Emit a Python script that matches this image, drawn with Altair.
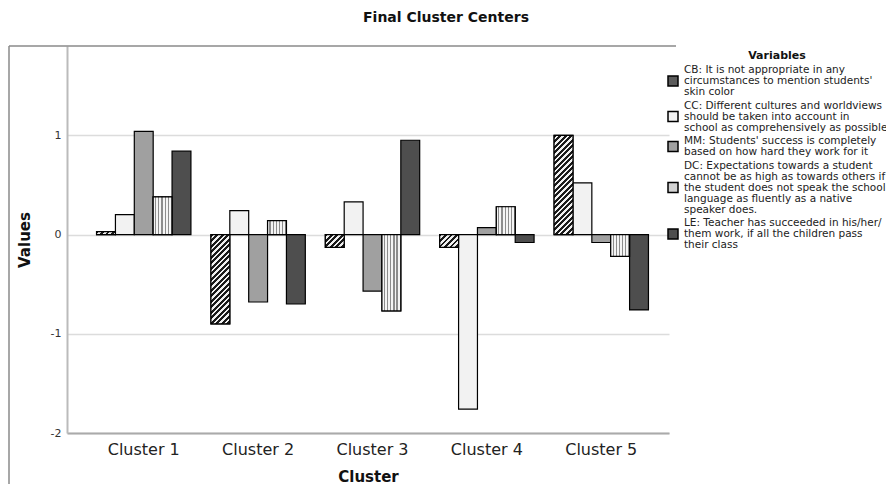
import math
import altair as alt
import pandas as pd

# ---------------- data ----------------
clusters = ["Cluster 1", "Cluster 2", "Cluster 3", "Cluster 4", "Cluster 5"]
codes = ["CB", "CC", "MM", "DC", "LE"]
legend_text = [
    "CB: It is not appropriate in any|circumstances to mention students'|skin color",
    "CC: Different cultures and worldviews|should be taken into account in|school as comprehensively as possible",
    "MM: Students' success is completely|based on how hard they work for it",
    "DC: Expectations towards a student|cannot be as high as towards others if|the student does not speak the school|language as fluently as a native|speaker does.",
    "LE: Teacher has succeeded in his/her/|them work, if all the children pass|their class",
]
cb_values = [0.03, -0.90, -0.13, -0.13, 1.00]
cc_values = [0.20, 0.24, 0.33, -1.76, 0.52]
mm_values = [1.04, -0.68, -0.57, 0.07, -0.08]
dc_values = [0.38, 0.14, -0.77, 0.28, -0.22]
le_values = [0.84, -0.70, 0.95, -0.08, -0.76]

series = {"CB": cb_values, "CC": cc_values, "MM": mm_values, "DC": dc_values, "LE": le_values}
grays = ["#5c5c5c", "#f2f2f2", "#a0a0a0", "#d2d2d2", "#4e4e4e"]

rows = []
for code, label in zip(codes, legend_text):
    for cl, v in zip(clusters, series[code]):
        rows.append({"cluster": cl, "variable": label, "code": code, "value": v})
df = pd.DataFrame(rows)

# ---------------- layout ----------------
W, H = 602, 387
Y_DOMAIN = [-2.0, 1.9]
PX_PER_UNIT = H / (Y_DOMAIN[1] - Y_DOMAIN[0])
FONT = "DejaVu Sans"
LINE_H = 11
SYM_SIZE = 100

x_scale = alt.Scale(domain=clusters, paddingInner=0.175, paddingOuter=0.219, align=0.59)
step = W / (len(clusters) - 0.175 + 2 * 0.219)
BAR_W = step * (1 - 0.175) / len(codes)

x_enc = alt.X(
    "cluster:N",
    sort=clusters,
    scale=x_scale,
    axis=alt.Axis(
        title="Cluster", labelAngle=0, ticks=False, grid=False,
        labelFontSize=16, labelColor="#222", labelFont=FONT, labelPadding=8,
        titleFontSize=15, titleFont=FONT, titleFontWeight="bold", titleColor="#111",
        titlePadding=12, domainColor="#aaaaaa", domainWidth=2,
    ),
)
xoff_enc = alt.XOffset(
    "variable:N", sort=legend_text,
    scale=alt.Scale(domain=legend_text, paddingInner=0, paddingOuter=0),
)
y_enc = alt.Y(
    "value:Q",
    scale=alt.Scale(domain=Y_DOMAIN, nice=False),
    axis=alt.Axis(
        title="Values", values=[-2, -1, 0, 1], ticks=False, grid=True,
        gridColor="#dcdcdc", gridWidth=1.5, labelExpr="'' + datum.value",
        labelFontSize=11, labelColor="#333", labelFont=FONT, labelPadding=6,
        titleFontSize=15, titleFont=FONT, titleFontWeight="bold", titleColor="#111",
        titlePadding=18, domainColor="#bbbbbb", domainWidth=2,
    ),
)

legend_kw = dict(
    title="Variables", orient="none", legendX=600, legendY=4,
    direction="vertical", symbolSize=SYM_SIZE,
    symbolStrokeColor="black", symbolStrokeWidth=1.5, symbolOpacity=1,
    labelExpr="split(datum.label, '|')", labelLimit=400,
    labelFontSize=10.5, labelFont=FONT, labelColor="#222", labelOffset=5,
    rowPadding=1.5, titleFontSize=11, titleFont=FONT, titleFontWeight="bold",
    titleColor="#111", titleAnchor="middle", titlePadding=3, padding=0,
)

fill_enc = alt.Fill(
    "variable:N",
    sort=legend_text,
    scale=alt.Scale(domain=legend_text, range=grays),
    legend=alt.Legend(**legend_kw),
)

# legend symbols: squares shifted down so each sits beside the middle line of its label
half = math.sqrt(SYM_SIZE) / 2
shape_paths = []
for label in legend_text:
    n_lines = label.count("|") + 1
    d = (n_lines - 1) * LINE_H / 2 / half
    shape_paths.append(f"M-1,{d - 1:.3f}L1,{d - 1:.3f}L1,{d + 1:.3f}L-1,{d + 1:.3f}Z")

legend_points = alt.Chart(df).mark_point(
    filled=True, opacity=0, size=1, strokeWidth=1.5
).encode(
    x=x_enc, xOffset=xoff_enc, y=y_enc,
    fill=alt.Fill("variable:N", sort=legend_text,
                  scale=alt.Scale(domain=legend_text, range=grays),
                  legend=alt.Legend(**legend_kw)),
    stroke=alt.Stroke("variable:N", sort=legend_text,
                      scale=alt.Scale(domain=legend_text, range=["#000000"] * len(legend_text)),
                      legend=alt.Legend(**legend_kw)),
    shape=alt.Shape("variable:N", sort=legend_text,
                    scale=alt.Scale(domain=legend_text, range=shape_paths),
                    legend=alt.Legend(**legend_kw)),
)

bars = alt.Chart(df).mark_bar(stroke="black", strokeWidth=1.2).encode(
    x=x_enc, xOffset=xoff_enc, y=y_enc, fill=fill_enc
)


def stripes_vertical(periods, dark, light, frac):
    stops = []
    for i in range(periods):
        a = i / periods
        b = (i + 1 - frac) / periods
        c = (i + 1) / periods
        stops += [
            {"offset": a, "color": light}, {"offset": b, "color": light},
            {"offset": b, "color": dark}, {"offset": c, "color": dark},
        ]
    return {"gradient": "linear", "x1": 0, "y1": 0, "x2": 1, "y2": 0, "stops": stops}


def stripes_diagonal(h, w, period, dark, light):
    h = max(h, 1.0)
    s = (w + h) / (w * w + h * h)
    k = (w + h) / period
    stops = []
    i = 0
    while i / k < 1:
        a = i / k
        b = min((i + 0.5) / k, 1)
        c = min((i + 1) / k, 1)
        stops += [
            {"offset": a, "color": dark}, {"offset": b, "color": dark},
            {"offset": b, "color": light}, {"offset": c, "color": light},
        ]
        i += 1
    return {"gradient": "linear", "x1": 0, "y1": 0, "x2": w * s, "y2": h * s, "stops": stops}


layers = [legend_points, bars]

# DC: vertical stripes
layers.append(
    alt.Chart(df).transform_filter(alt.datum.code == "DC").mark_bar(
        fill=stripes_vertical(6, "#8c8c8c", "#f4f4f4", 0.4), stroke="black", strokeWidth=1.2
    ).encode(x=x_enc, xOffset=xoff_enc, y=y_enc)
)

# CB: diagonal hatch, one layer per bar so the hatch keeps its angle
for cl, v in zip(clusters, cb_values):
    h_px = abs(v) * PX_PER_UNIT
    layers.append(
        alt.Chart(df).transform_filter(
            (alt.datum.code == "CB") & (alt.datum.cluster == cl)
        ).mark_bar(
            fill=stripes_diagonal(h_px, BAR_W, 5.5, "#1a1a1a", "#f0f0f0"),
            stroke="black", strokeWidth=1.2,
        ).encode(x=x_enc, xOffset=xoff_enc, y=y_enc)
    )

# outer frame lines
frame_df = pd.DataFrame({"k": [0]})
frame_left = alt.Chart(frame_df).mark_rule(color="#8a8a8a", strokeWidth=1.5).encode(
    x=alt.value(-58), y=alt.value(0), y2=alt.value(450)
)
frame_top = alt.Chart(frame_df).mark_rule(color="#8a8a8a", strokeWidth=1.5).encode(
    y=alt.value(0), x=alt.value(-58), x2=alt.value(609)
)
layers += [frame_left, frame_top]

chart = alt.layer(*layers).properties(
    width=W, height=H,
    autosize=alt.AutoSizeParams(type="none"),
    padding={"left": 59, "top": 38, "right": 217, "bottom": 51},
    title=alt.TitleParams(
        "Final Cluster Centers", font=FONT, fontSize=14, fontWeight="bold",
        color="#111", anchor="middle", frame="group", dx=78, offset=20,
    ),
).configure(
    background="white", style={"guide-label": {"lineHeight": LINE_H}}
).configure_view(stroke=None)

chart.save("out.html", embed_options={"renderer": "svg", "actions": False})
